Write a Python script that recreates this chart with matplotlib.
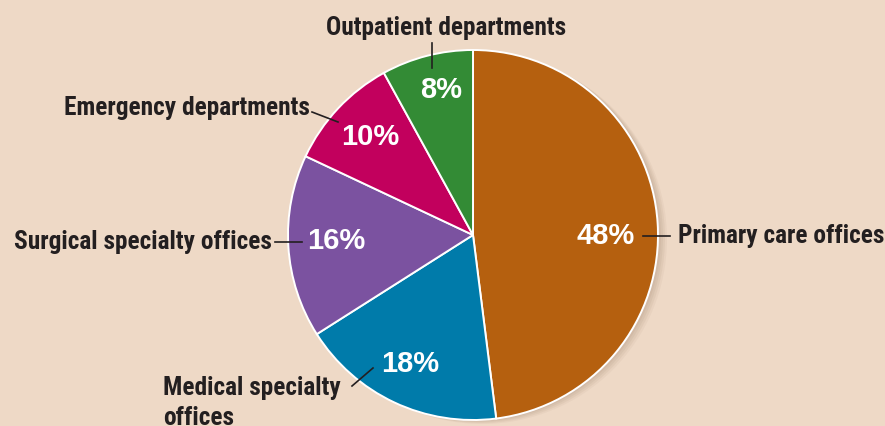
import matplotlib.pyplot as plt
from matplotlib import font_manager
from matplotlib.patches import Circle

# shares of visits by setting, clockwise from 12 o'clock
settings = ["Primary care offices", "Medical specialty\noffices", "Surgical specialty offices",
            "Emergency departments", "Outpatient departments"]
shares = [48, 18, 16, 10, 8]
colors = ["#B5600F", "#007BAA", "#7B52A0", "#C2005D", "#338B35"]

bg = "#EED9C6"
ink = "#231F20"

names = {f.name for f in font_manager.fontManager.ttflist}


def pick(*cands):
    for c in cands:
        if c in names:
            return c
    return "DejaVu Sans"


label_font = pick("Roboto Condensed", "Archivo Narrow", "Barlow Condensed", "Liberation Sans Narrow")
pct_font = pick("Liberation Sans", "Roboto")

W, H = 885, 426
fig = plt.figure(figsize=(W / 100, H / 100), dpi=100, facecolor=bg)
ax = fig.add_axes([0, 0, 1, 1])
ax.set_facecolor(bg)

cx, cy, r = 473, H - 235, 185

# soft shadow on the right side
for i, a in enumerate([0.05, 0.05, 0.05, 0.04]):
    ax.add_patch(Circle((cx + 3 + i * 2, cy - 1 - i), r, color="#5a3a20", alpha=a, lw=0, zorder=0))

ax.pie(shares, colors=colors, startangle=90, counterclock=False,
       center=(cx, cy), radius=r,
       wedgeprops={"edgecolor": "white", "linewidth": 1.4})

ax.set_xlim(0, W)
ax.set_ylim(0, H)
ax.set_aspect("equal")
ax.axis("off")


def Y(y):
    return H - y


# percentage labels inside the slices
pct_pos = [(606, 236), (410, 364), (336, 241), (370, 137), (441, 90)]
for s, (x, y) in zip(shares, pct_pos):
    ax.text(x, Y(y), f"{s}%", color="white", fontsize=21, fontweight="bold",
            family=pct_font, ha="center", va="center")

lab = dict(color=ink, fontsize=18.3, fontweight="bold", family=label_font)

ax.text(678, Y(236), settings[0], ha="left", va="center", **lab)
ax.plot([643, 670], [Y(236), Y(236)], color=ink, lw=1.2)

ax.text(163, Y(376), settings[1], ha="left", va="top", linespacing=1.3, **lab)
ax.plot([352, 373], [Y(386), Y(368)], color=ink, lw=1.2)

ax.text(272, Y(242), settings[2], ha="right", va="center", **lab)
ax.plot([275, 302], [Y(242), Y(242)], color=ink, lw=1.2)

ax.text(310, Y(108), settings[3], ha="right", va="center", **lab)
ax.plot([312, 338], [Y(112), Y(122)], color=ink, lw=1.2)

ax.text(446, Y(28), settings[4], ha="center", va="center", **lab)
ax.plot([432, 432], [Y(43), Y(68)], color=ink, lw=1.2)

fig.savefig("out.png", dpi=100, facecolor=bg)
